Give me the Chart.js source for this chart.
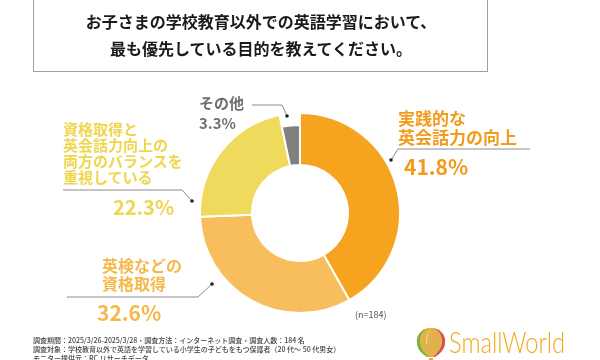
<!DOCTYPE html>
<html lang="ja">
<head>
<meta charset="utf-8">
<script src="https://cdn.jsdelivr.net/npm/chart.js@4"></script>
<style>
  html, body { margin: 0; padding: 0; background: #fff; }
  #wrap { position: relative; width: 600px; height: 360px; overflow: hidden; font-family: 'Noto Sans CJK JP', 'Noto Sans', sans-serif; }
  #chart { position: absolute; left: 0; top: 0; }
  .t { position: absolute; font-weight: bold; white-space: nowrap; }
  #titleBox { position: absolute; left: 33px; top: -5px; width: 455px; height: 77px; border: 1px solid #a0a0a0; box-sizing: border-box; }
  #title { position: absolute; left: 33px; width: 456px; top: 8px; text-align: center; font-size: 16px; line-height: 27px; color: #1a1a1a; font-weight: bold; }
  .foot { position: absolute; left: 33px; top: 336px; font-size: 7px; line-height: 9px; color: #444; white-space: nowrap; font-weight: 500; }
  #logoText { position: absolute; left: 449px; top: 323px; font-family: Lato, 'Noto Sans', sans-serif; font-weight: 300; font-size: 30px; color: #F5A81C; transform: scaleX(0.79); transform-origin: left top; }
</style>
</head>
<body>
<div id="wrap">
  <canvas id="chart" width="600" height="360"></canvas>
  <div id="titleBox"></div>
  <div id="title">お子さまの学校教育以外での英語学習において、<br>最も優先している目的を教えてください。</div>

  <div class="t" style="left:398px; top:108px; font-size:17px; line-height:19px; color:#F29B1B;">実践的な<br>英会話力の向上</div>
  <div class="t" style="left:404px; top:154px; font-size:21px; line-height:24px; color:#F29B1B;">41.8%</div>

  <div class="t" style="left:199px; top:93px; font-size:15px; line-height:20px; color:#707070;">その他<br>3.3%</div>

  <div class="t" style="left:63px; top:121px; font-size:15px; line-height:16px; color:#EED64E;">資格取得と<br>英会話力向上の<br>両方のバランスを<br>重視している</div>
  <div class="t" style="left:113px; top:195px; font-size:20px; line-height:24px; color:#EED64E;">22.3%</div>

  <div class="t" style="left:102px; top:256px; font-size:16px; line-height:18px; color:#F6B84C;">英検などの<br>資格取得</div>
  <div class="t" style="left:97px; top:300px; font-size:21px; line-height:24px; color:#F6B84C;">32.6%</div>

  <div class="t" style="left:355px; top:309px; font-size:9px; line-height:12px; color:#555; font-weight:normal;">(n=184)</div>

  <div class="foot">調査期間：2025/3/26-2025/3/28・調査方法：インターネット調査・調査人数：184 名<br>調査対象：学校教育以外で英語を学習している小学生の子どもをもつ保護者（20 代～ 50 代男女）<br>モニター提供元：RC リサーチデータ</div>

  <svg style="position:absolute; left:414px; top:326px;" width="34" height="36" viewBox="0 0 34 36">
    <path d="M17 2 C6 2 2 10 3 17 C4 23 10 28 15 31 L19 31 C24 28 30 23 31 17 C32 10 28 2 17 2 Z" fill="#E2B04E"/>
    <path d="M17 2 C9 3 5 10 6 17 C7 23 11 28 15 31 L13 31 C8 28 3 23 3 17 C2 10 7 3 17 2 Z" fill="#7BB342"/>
    <path d="M17 2 C25 3 29 10 28 17 C27 23 23 28 19 31 L21 31 C26 28 31 23 31 17 C32 10 27 3 17 2 Z" fill="#D9534F"/>
    <path d="M12 18 C12 10 14 5 17 2 C14 6 13 12 13 18 Z" fill="#F2E25A"/>
    <rect x="15" y="32" width="4" height="4" fill="#E2B04E"/>
  </svg>
  <div id="logoText">SmallWorld</div>
</div>

<script>
const categories = ['実践的な英会話力の向上', '英検などの資格取得', '資格取得と英会話力向上の両方のバランスを重視している', 'その他'];
const shares = [41.8, 32.6, 22.3, 3.3];
const sliceColors = ['#F6A31F', '#F8BE5E', '#F0DA5D', '#808080'];

// leader lines (annotation only): [dot, elbow, end]
const leaders = [
  [[391, 160], [398, 149], [530, 149]],
  [[287, 116], [282, 105], [252, 105]],
  [[192, 201], [182, 190], [63, 190]],
  [[212, 284], [198, 297], [67, 297]]
];

const shrinkOther = {
  id: 'shrinkOther',
  afterDatasetsUpdate(chart) {
    const arc = chart.getDatasetMeta(0).data[3];
    if (arc) arc.outerRadius = arc.outerRadius - 12;
  }
};

const leaderLines = {
  id: 'leaderLines',
  afterDraw(chart) {
    const ctx = chart.ctx;
    ctx.save();
    ctx.strokeStyle = '#8a8a8a';
    ctx.lineWidth = 1;
    leaders.forEach(pts => {
      ctx.beginPath();
      ctx.moveTo(pts[0][0], pts[0][1]);
      ctx.lineTo(pts[1][0], pts[1][1]);
      ctx.lineTo(pts[2][0], pts[2][1]);
      ctx.stroke();
      ctx.fillStyle = '#222';
      ctx.beginPath();
      ctx.arc(pts[0][0], pts[0][1], 1.8, 0, Math.PI * 2);
      ctx.fill();
    });
    ctx.restore();
  }
};

new Chart(document.getElementById('chart').getContext('2d'), {
  type: 'doughnut',
  data: { labels: categories, datasets: [{ data: shares, backgroundColor: sliceColors, borderColor: '#fff', borderWidth: 2 }] },
  options: {
    responsive: false, animation: false, cutout: '48%',
    layout: { padding: { left: 199, right: 199, top: 112, bottom: 46 } },
    plugins: { legend: { display: false }, tooltip: { enabled: false } }
  },
  plugins: [shrinkOther, leaderLines]
});
</script>
</body>
</html>
